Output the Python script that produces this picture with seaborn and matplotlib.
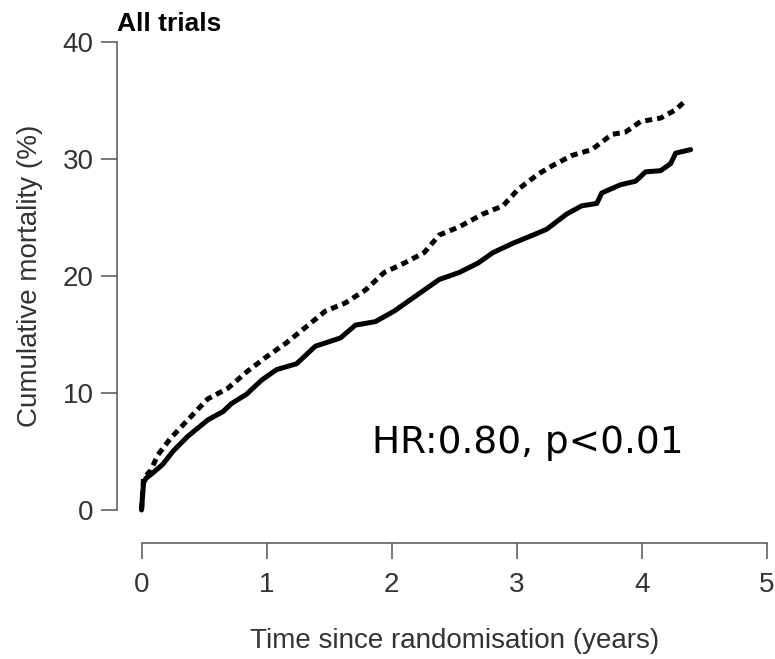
import matplotlib
matplotlib.use("Agg")
import matplotlib.pyplot as plt
import seaborn as sns
import pandas as pd

# Cumulative mortality (%) over time since randomisation (years)
treat_t = [0.0, 0.016, 0.035, 0.094, 0.17, 0.25, 0.37, 0.53, 0.65, 0.72, 0.84, 0.96,
           1.08, 1.24, 1.39, 1.59, 1.71, 1.87, 2.02, 2.14, 2.26, 2.38, 2.54, 2.69,
           2.81, 2.97, 3.13, 3.24, 3.40, 3.52, 3.64, 3.68, 3.83, 3.95, 4.03, 4.15,
           4.23, 4.27, 4.39]
treat_v = [0.0, 2.3, 2.7, 3.2, 3.9, 5.0, 6.3, 7.7, 8.4, 9.1, 9.9, 11.1,
           12.0, 12.5, 14.0, 14.7, 15.8, 16.1, 17.0, 17.9, 18.8, 19.7, 20.3, 21.1,
           22.0, 22.8, 23.5, 24.0, 25.3, 26.0, 26.2, 27.1, 27.8, 28.1, 28.9, 29.0,
           29.6, 30.5, 30.8]

ctrl_t = [0.0, 0.016, 0.075, 0.13, 0.23, 0.37, 0.53, 0.69, 0.84, 1.0, 1.16, 1.31,
          1.47, 1.63, 1.79, 1.94, 2.10, 2.26, 2.38, 2.54, 2.73, 2.89, 3.01, 3.17,
          3.28, 3.44, 3.60, 3.76, 3.87, 3.99, 4.15, 4.27, 4.33]
ctrl_v = [0.0, 2.7, 3.4, 4.7, 6.1, 7.7, 9.5, 10.4, 11.8, 13.1, 14.3, 15.6,
          17.0, 17.7, 18.8, 20.3, 21.1, 22.0, 23.5, 24.2, 25.3, 26.0, 27.4, 28.7,
          29.4, 30.3, 30.8, 32.1, 32.3, 33.2, 33.5, 34.2, 34.8]

x_ticks = [0, 1, 2, 3, 4, 5]
y_ticks = [0, 10, 20, 30, 40]

sns.set_style("ticks")
plt.rcParams["font.family"] = ["Liberation Sans", "DejaVu Sans"]

fig = plt.figure(figsize=(7.75, 6.59), dpi=100)
ax = fig.add_axes([0.1826, 0.2261, 0.807, 0.7102])

treat = pd.DataFrame({"t": treat_t, "v": treat_v})
ctrl = pd.DataFrame({"t": ctrl_t, "v": ctrl_v})

sns.lineplot(data=ctrl, x="t", y="v", ax=ax, color="black", linewidth=3.6,
             linestyle=(0, (1.4, 1.0)), sort=False, estimator=None, clip_on=False)
sns.lineplot(data=treat, x="t", y="v", ax=ax, color="black", linewidth=3.6,
             sort=False, estimator=None, clip_on=False, solid_joinstyle="round")

ax.set_xlim(0, 5)
ax.set_ylim(0, 40)
ax.set_xticks(x_ticks)
ax.set_yticks(y_ticks)
sns.despine(ax=ax, offset=dict(left=18, bottom=24))
for side in ("left", "bottom"):
    ax.spines[side].set_color("#555555")
    ax.spines[side].set_linewidth(1.1)

ax.tick_params(axis="both", direction="out", length=11.5, width=1.1,
               color="#555555", labelsize=20, labelcolor="#333333")
ax.tick_params(axis="x", pad=9)
ax.tick_params(axis="y", pad=5)

ax.set_xlabel("Time since randomisation (years)", fontsize=20, color="#333333",
              labelpad=22)
ax.set_ylabel("Cumulative mortality (%)", fontsize=20, color="#333333",
              labelpad=14)

fig.text(117 / 775, 1 - 31 / 659, "All trials", fontsize=19, fontweight="bold",
         color="black", ha="left", va="baseline")

ax.text(1.844, 4.87, "HR:0.80, p<0.01", fontsize=27, family="DejaVu Sans",
        color="black", ha="left", va="baseline")

fig.savefig("out.png", dpi=100)
